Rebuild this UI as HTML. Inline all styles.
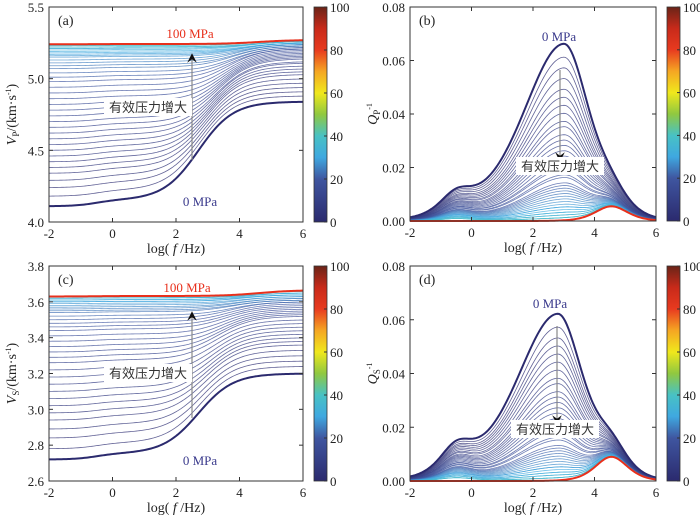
<!DOCTYPE html>
<html><head><meta charset="utf-8">
<style>
html,body{margin:0;padding:0;background:#fff;}
svg{display:block;font-family:"Liberation Serif","Noto Serif CJK SC",serif;}
.tk{font-size:13px;fill:#222;}
.cn{font-family:"Liberation Sans","Noto Sans CJK SC",sans-serif;font-size:13px;fill:#333;}
</style></head>
<body>
<svg id="fig" width="700" height="517" viewBox="0 0 700 517">
<defs>
<linearGradient id="cmap" x1="0" y1="1" x2="0" y2="0">
<stop offset="0" stop-color="#2b2a6e"/><stop offset="0.2" stop-color="#3f56a0"/>
<stop offset="0.3" stop-color="#3fa8e0"/><stop offset="0.4" stop-color="#48c2c4"/>
<stop offset="0.5" stop-color="#90c840"/><stop offset="0.6" stop-color="#f0e81c"/>
<stop offset="0.7" stop-color="#f5a623"/><stop offset="0.8" stop-color="#e83a1f"/>
<stop offset="0.9" stop-color="#c82a1a"/><stop offset="1" stop-color="#6a2418"/>
</linearGradient>
<marker id="ah" markerWidth="8" markerHeight="8" refX="4" refY="4" orient="auto"><path d="M0,0 L8,4 L0,8 L3,4 Z" fill="#111"/></marker>
</defs>
</svg>
<script>
// pressures (MPa) for each curve
const pressures = [0,1,2,3,4,5,6,7,8,9,10,11,12,13,14,15,16,17,18,19,20,21,22,23,24,25,26,27,28,29,30,31,32,33,34,35,36,37,38,40,100];
const vpLow = [4.11,4.18,4.24,4.29,4.34,4.38,4.42,4.46,4.50,4.54,4.58,4.62,4.66,4.70,4.74,4.78,4.82,4.86,4.90,4.94,4.98,5.01,5.04,5.07,5.09,5.11,5.13,5.15,5.16,5.17,5.18,5.19,5.20,5.21,5.21,5.22,5.22,5.23,5.23,5.24,5.24];
const vpHigh = [4.84,4.88,4.91,4.94,4.97,5.00,5.03,5.05,5.07,5.09,5.11,5.12,5.14,5.15,5.16,5.17,5.18,5.19,5.20,5.21,5.21,5.22,5.22,5.23,5.23,5.24,5.24,5.24,5.25,5.25,5.25,5.25,5.26,5.26,5.26,5.26,5.26,5.27,5.27,5.27,5.27];
const vsLow = [2.72,2.78,2.84,2.89,2.94,2.98,3.02,3.06,3.10,3.14,3.18,3.22,3.26,3.29,3.32,3.35,3.38,3.41,3.44,3.46,3.48,3.50,3.52,3.54,3.55,3.56,3.57,3.58,3.59,3.60,3.60,3.61,3.61,3.62,3.62,3.62,3.63,3.63,3.63,3.63,3.63];
const vsHigh = [3.20,3.24,3.27,3.30,3.33,3.36,3.38,3.40,3.42,3.44,3.46,3.48,3.50,3.52,3.53,3.54,3.55,3.56,3.57,3.58,3.59,3.60,3.60,3.61,3.61,3.62,3.62,3.63,3.63,3.64,3.64,3.64,3.65,3.65,3.65,3.66,3.66,3.66,3.66,3.665,3.665];
const qpPeak = [0.066,0.061,0.057,0.053,0.049,0.046,0.043,0.040,0.037,0.035,0.032,0.030,0.028,0.026,0.024,0.022,0.020,0.019,0.017,0.016,0.014,0.013,0.012,0.011,0.010,0.009,0.008,0.007,0.006,0.005,0.005,0.004,0.003,0.003,0.002,0.002,0.001,0.001,0.001,0.000,0.000];
const qsPeak = [0.062,0.057,0.053,0.050,0.047,0.044,0.041,0.038,0.036,0.033,0.031,0.029,0.027,0.025,0.023,0.021,0.019,0.018,0.016,0.015,0.013,0.012,0.011,0.010,0.009,0.008,0.007,0.006,0.005,0.005,0.004,0.003,0.003,0.002,0.002,0.001,0.001,0.001,0.000,0.000,0.000];
const xTicks = [-2,0,2,4,6];
const cbTicks = [0,20,40,60,80,100];

const NS="http://www.w3.org/2000/svg";
const svg=document.getElementById('fig');
function mk(tag,attrs,parent){const e=document.createElementNS(NS,tag);for(const k in attrs)e.setAttribute(k,attrs[k]);(parent||svg).appendChild(e);return e;}
const stops=[[0,[43,42,110]],[20,[63,86,160]],[30,[63,168,224]],[40,[72,194,196]],[50,[144,200,64]],[60,[240,232,28]],[70,[245,166,35]],[80,[232,58,31]],[90,[200,42,26]],[100,[106,36,24]]];
function cmap(p){if(p>=100)return '#e8301c';for(let i=1;i<stops.length;i++){if(p<=stops[i][0]){const a=stops[i-1],b=stops[i];const t=(p-a[0])/(b[0]-a[0]);const c=a[1].map((v,j)=>Math.round(v+(b[1][j]-v)*t));return `rgb(${c})`;}}return 'rgb(106,36,24)';}
const sg=z=>1/(1+Math.exp(-z));
const bell=z=>{const s=sg(z);return 4*s*(1-s);};

function panel(o){
  const g=mk('g',{});
  
  
  const L=o.L,R=o.R,T=o.T,B=o.B;
  const xs=v=>L+(v+2)/8*(R-L);
  const ys=v=>B-(v-o.y0)/(o.y1-o.y0)*(B-T);
  const lines=mk('g',{},g);
  
  
  const n=pressures.length;
  for(let i=0;i<n;i++){
    let d='';
    for(let k=0;k<=160;k++){
      const x=-2+k*0.05;
      const v=o.f(i,x);
      d+=(k?'L':'M')+xs(x).toFixed(2)+','+ys(v).toFixed(2);
    }
    const edge=(i===0||i===n-1);
    const p=mk('path',{d:d,fill:'none',stroke:cmap(pressures[i]),'stroke-width':edge?2:0.8,'stroke-opacity':edge?1:0.75},lines);
    
    
  }
  const fr=mk('rect',{x:L,y:T,width:R-L,height:B-T,fill:'none',stroke:'#333','stroke-width':1},g);
  
  
  xTicks.forEach(t=>{
    const x=xs(t);
    mk('line',{x1:x,y1:B,x2:x,y2:B-4,stroke:'#333'},g);mk('line',{x1:x,y1:T,x2:x,y2:T+4,stroke:'#333'},g);
    const tx=mk('text',{x:x,y:B+16,'text-anchor':'middle',class:'tk'},g);tx.textContent=t;
    
    
  });
  o.yTicks.forEach(t=>{
    const y=ys(t);
    mk('line',{x1:L,y1:y,x2:L+4,y2:y,stroke:'#333'},g);mk('line',{x1:R,y1:y,x2:R-4,y2:y,stroke:'#333'},g);
    const tx=mk('text',{x:L-5,y:y+5,'text-anchor':'end',class:'tk'},g);tx.textContent=t.toFixed(o.dec);
    
    
  });
  const xt=mk('text',{x:(L+R)/2,y:B+31,'text-anchor':'middle','font-size':14,fill:'#222'},g);
  xt.innerHTML='log( <tspan font-style="italic">f</tspan> /Hz)';
  
  
  const yt=mk('text',{transform:`translate(${L-33},${(T+B)/2}) rotate(-90)`,'text-anchor':'middle','font-size':14,fill:'#222'},g);
  yt.innerHTML=o.ytitle;
  
  
  const pl=mk('text',{x:L+9,y:T+18,'font-size':14,fill:'#222'},g);pl.textContent=o.label;
  
  
  const cx=R+11;
  const cb=mk('rect',{x:cx,y:T,width:13,height:B-T,fill:'url(#cmap)',stroke:'#333','stroke-width':0.8},g);
  
  
  cbTicks.forEach(t=>{
    const y=B-t/100*(B-T);
    mk('line',{x1:cx+13,y1:y,x2:cx+10,y2:y,stroke:'#333'},g);
    const tx=mk('text',{x:cx+16,y:y+5,class:'tk'},g);tx.textContent=t;
    
    
  });
  o.ann.forEach(a=>{
    const tx=mk('text',{x:a.x,y:a.y,'text-anchor':'middle','font-size':13,fill:a.c},g);tx.textContent=a.t;
    
    
  });
  const ar=mk('line',{x1:o.arrow[0],y1:o.arrow[1],x2:o.arrow[0],y2:o.arrow[2],stroke:'#888','stroke-width':1.2,'marker-end':'url(#ah)'},g);
  
  
  const bx=mk('rect',{x:o.cn[0]-44,y:o.cn[1]-13,width:88,height:18,fill:'#fff'},g);
  
  
  const ct=mk('text',{x:o.cn[0],y:o.cn[1]+1,'text-anchor':'middle',class:'cn'},g);ct.textContent='有效压力增大';
  
  
}
const n1=pressures.length-1;
function velF(low,high,sh){return (i,x)=>{const c=2.7+1.9*i/n1;const lo=low[i],hi=high[i];return lo+(hi-lo)*(sh*sg((x+0.5)/0.35)+(1-sh)*sg((x-c)/0.55));};}
function qF(pk,c,shMax,hiMax){return (i,x)=>{const m=pk[i];const z=(x-c)/(x<c?0.9:0.55);const r=Math.sqrt(m/pk[0]);return m*bell(z)+shMax*r*bell((x+0.5)/0.35)+hiMax*bell((x-4.55)/0.35);};}

panel({name:'panel-a-vp',L:49,R:303,T:7,B:222,y0:4,y1:5.5,yTicks:[4,4.5,5,5.5],dec:1,label:'(a)',
  ytitle:'<tspan font-style="italic">V</tspan><tspan font-size="9" dy="3">P</tspan><tspan dy="-3">/(km·s</tspan><tspan font-size="8" dy="-5">-1</tspan><tspan dy="5">)</tspan>',
  f:velF(vpLow,vpHigh,0.06),
  ann:[{x:190,y:38,t:'100 MPa',c:'#e8301c',n:'label-100mpa'},{x:200,y:206,t:'0 MPa',c:'#3a3a8c',n:'label-0mpa'}],
  arrow:[192,160,58],cn:[148,111]});
panel({name:'panel-b-qp',L:410,R:656,T:7,B:221,y0:0,y1:0.08,yTicks:[0,0.02,0.04,0.06,0.08],dec:2,label:'(b)',
  ytitle:'<tspan font-style="italic">Q</tspan><tspan font-size="9" dy="3">P</tspan><tspan font-size="8" dy="-8">-1</tspan>',
  f:qF(qpPeak,3.0,0.007,0.0055),
  ann:[{x:559,y:41,t:'0 MPa',c:'#3a3a8c',n:'label-0mpa'}],
  arrow:[560,70,157],cn:[560,170]});
panel({name:'panel-c-vs',L:49,R:303,T:266,B:481,y0:2.6,y1:3.8,yTicks:[2.6,2.8,3.0,3.2,3.4,3.6,3.8],dec:1,label:'(c)',
  ytitle:'<tspan font-style="italic">V</tspan><tspan font-size="9" dy="3">S</tspan><tspan dy="-3">/(km·s</tspan><tspan font-size="8" dy="-5">-1</tspan><tspan dy="5">)</tspan>',
  f:velF(vsLow,vsHigh,0.07),
  ann:[{x:187,y:292,t:'100 MPa',c:'#e8301c',n:'label-100mpa'},{x:200,y:465,t:'0 MPa',c:'#3a3a8c',n:'label-0mpa'}],
  arrow:[192,418,316],cn:[148,377]});
panel({name:'panel-d-qs',L:410,R:656,T:266,B:481,y0:0,y1:0.08,yTicks:[0,0.02,0.04,0.06,0.08],dec:2,label:'(d)',
  ytitle:'<tspan font-style="italic">Q</tspan><tspan font-size="9" dy="3">S</tspan><tspan font-size="8" dy="-8">-1</tspan>',
  f:qF(qsPeak,2.8,0.009,0.009),
  ann:[{x:550,y:308,t:'0 MPa',c:'#3a3a8c',n:'label-0mpa'}],
  arrow:[557,326,420],cn:[555,433]});
</script>
</body></html>
